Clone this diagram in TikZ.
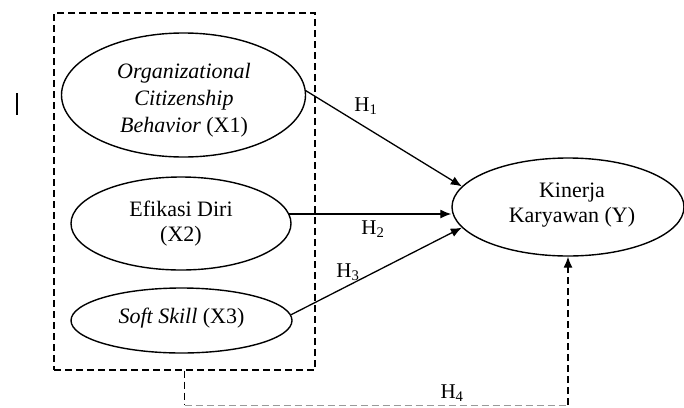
\documentclass[tikz,border=0pt]{standalone}
\usepackage{fontspec}
\setmainfont{Liberation Serif}
\usetikzlibrary{shapes.geometric,arrows.meta}
\tikzset{
  ell/.style={draw,ellipse,line width=1.4pt,inner sep=0pt},
  txt/.style={align=center,inner sep=0pt,font=\fontsize{22}{25}\selectfont},
  lab/.style={inner sep=0pt,font=\fontsize{21}{24}\selectfont},
  arr/.style={line width=1.3pt,-{Latex[length=11pt,width=9pt]}},
  dsh/.style={line width=1.3pt,dash pattern=on 7pt off 4pt},
}
\begin{document}
\begin{tikzpicture}[x=1pt,y=-1pt]
\useasboundingbox (0,0) rectangle (684,407);
% dashed box
\node[draw,dsh,minimum width=261pt,minimum height=357pt,inner sep=0pt] (box) at (184.5,191.5) {};
% stray bar
\draw[line width=1.4pt] (17,93) -- (17,115);
% ellipses
\node[ell,minimum width=244pt,minimum height=124pt] (x1) at (183.5,95) {};
\node[txt] (x1t) at (184,100) {\itshape Organizational\\[2pt]\itshape Citizenship\\[2pt]\itshape Behavior \upshape(X1)};
\node[ell,minimum width=220pt,minimum height=93pt] (x2) at (181,223.5) {};
\node[txt] (x2t) at (181,224) {Efikasi Diri\\(X2)};
\node[ell,minimum width=221pt,minimum height=65pt] (x3) at (181.5,320.5) {};
\node[txt] (x3t) at (181.5,318) {\textit{Soft Skill} (X3)};
\node[ell,minimum width=232pt,minimum height=98pt] (y) at (568,207) {};
\node[txt] (yt) at (572,205) {Kinerja\\Karyawan (Y)};
% arrows
\draw[arr] (x1.2) -- (y.169);
\draw[arr] (x2.5) -- (x2.5 -| y.west);
\draw[arr] (x3.3) -- (y.191);
\coordinate (c1) at (box.south |- 0,405);
\coordinate (c2) at (y.south |- 0,405);
\draw[dsh] (box.south) -- (c1);
\draw[dsh,draw=black!40,line width=0.8pt] (c1) -- (c2);
\draw[dsh] (c2) -- ([yshift=-10pt]y.south);
\draw[arr] ([yshift=-12pt]y.south) -- (y.south);
% labels
\node[lab] (h1) at (366,106) {H\textsubscript{1}};
\node[lab] (h2) at (373,229) {H\textsubscript{2}};
\node[lab] (h3) at (348,272) {H\textsubscript{3}};
\node[lab] (h4) at (452,393) {H\textsubscript{4}};
\end{tikzpicture}
\end{document}
